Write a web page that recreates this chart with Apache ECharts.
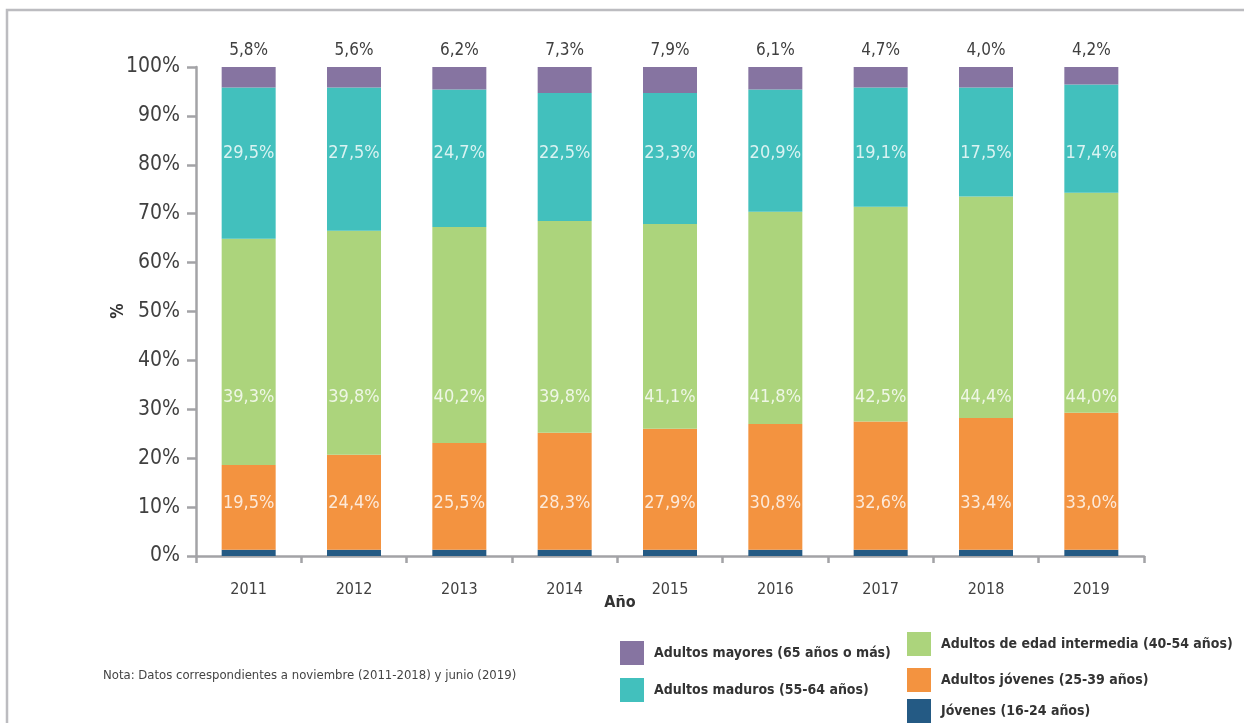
<!DOCTYPE html>
<html>
<head>
<meta charset="utf-8">
<script src="https://cdn.jsdelivr.net/npm/echarts@6/dist/echarts.min.js"></script>
<style>
html,body{margin:0;padding:0;background:#fff;}
#main{width:1244px;height:723px;}
</style>
</head>
<body>
<div id="main"></div>
<script>
// categorias
var years = ['2011','2012','2013','2014','2015','2016','2017','2018','2019'];
var seriesNames = ['Jóvenes (16-24 años)','Adultos jóvenes (25-39 años)','Adultos de edad intermedia (40-54 años)','Adultos maduros (55-64 años)','Adultos mayores (65 años o más)'];

// alturas de los segmentos
var jovenes = [1.3,1.3,1.3,1.3,1.3,1.3,1.3,1.3,1.3];
var adultosJovenes = [17.3,19.4,21.8,23.9,24.7,25.7,26.2,26.9,28.0];
var adultosIntermedia = [46.3,45.8,44.2,43.3,41.9,43.4,43.9,45.3,45.0];
var adultosMaduros = [30.9,29.3,28.1,26.2,26.8,25.0,24.4,22.3,22.1];
var adultosMayores = [4.2,4.2,4.6,5.3,5.3,4.6,4.2,4.2,3.6];

// textos de las etiquetas
var lblMayores = ['5,8%','5,6%','6,2%','7,3%','7,9%','6,1%','4,7%','4,0%','4,2%'];
var lblMaduros = ['29,5%','27,5%','24,7%','22,5%','23,3%','20,9%','19,1%','17,5%','17,4%'];
var lblIntermedia = ['39,3%','39,8%','40,2%','39,8%','41,1%','41,8%','42,5%','44,4%','44,0%'];
var lblJovenes = ['19,5%','24,4%','25,5%','28,3%','27,9%','30,8%','32,6%','33,4%','33,0%'];

var colors = ['#245a84','#f39340','#acd47c','#42c0bd','#8674a1'];
var FONT = "'Liberation Sans Narrow','DejaVu Sans Condensed',sans-serif";

var chart = echarts.init(document.getElementById('main'));

//serie de barras apiladas
function barSerie(idx, data){
	return {
		name: seriesNames[idx],
		type: 'bar',
		stack: 'total',
		barWidth: 54,
		itemStyle: {color: colors[idx]},
		data: data
	};
}

//fila de etiquetas a una altura fija
function labelRow(level, texts){
	return {
		type: 'scatter',
		symbolSize: 0,
		silent: true,
		z: 10,
		label: {
			show: true,
			position: 'inside',
			color: '#fff',
			fontSize: 18,
			fontFamily: FONT,
			formatter: function(p){ return texts[p.dataIndex]; }
		},
		data: years.map(function(y){ return [y, level]; })
	};
}

function legendItem(name, left, top){
	return {
		data: [name],
		left: left,
		top: top,
		icon: 'rect',
		itemWidth: 24,
		itemHeight: 24,
		itemGap: 10,
		selectedMode: false,
		textStyle: {fontSize: 14, fontWeight: 'bold', color: '#333', fontFamily: FONT, padding: [0,0,0,5]}
	};
}

var mayores = barSerie(4, adultosMayores);
mayores.label = {
	show: true,
	position: 'top',
	distance: 8,
	color: '#404040',
	fontSize: 17,
	fontFamily: FONT,
	formatter: function(p){ return lblMayores[p.dataIndex]; }
};

var option = {
	animation: false,
	grid: {left: 196, right: 100, top: 67, bottom: 167},
	legend: [
		legendItem(seriesNames[4], 615, 636),
		legendItem(seriesNames[3], 615, 673),
		legendItem(seriesNames[2], 902, 627),
		legendItem(seriesNames[1], 902, 663),
		legendItem(seriesNames[0], 902, 694)
	],
	xAxis: {
		type: 'category',
		data: years,
		axisLine: {lineStyle: {color: '#a3a3a6', width: 2.5}},
		axisTick: {show: true, length: 7, lineStyle: {color: '#a3a3a6', width: 2.5}},
		axisLabel: {fontSize: 16, color: '#404040', fontFamily: FONT, margin: 26}
	},
	yAxis: {
		type: 'value',
		min: 0,
		max: 100,
		interval: 10,
		splitLine: {show: false},
		axisLine: {show: true, lineStyle: {color: '#a3a3a6', width: 2.5}},
		axisTick: {show: true, length: 9, lineStyle: {color: '#a3a3a6', width: 2.5}},
		axisLabel: {fontSize: 21, color: '#404040', fontFamily: FONT, margin: 16, formatter: '{value}%'}
	},
	graphic: [
		{
			type: 'rect',
			shape: {x: 7, y: 10, width: 1400, height: 900},
			style: {fill: 'none', stroke: '#bcbcc0', lineWidth: 2.5},
			silent: true
		},
		{
			type: 'text',
			left: 103,
			top: 669,
			style: {text: 'Nota: Datos correspondientes a noviembre (2011-2018) y junio (2019)', fontSize: 13, fill: '#444', fontFamily: FONT}
		},
		{
			//titulo del eje x
			type: 'text',
			x: 620,
			y: 603,
			style: {text: 'Año', fontSize: 16, fontWeight: 'bold', fill: '#333', fontFamily: FONT, align: 'center', verticalAlign: 'middle'}
		},
		{
			//titulo del eje y
			type: 'text',
			x: 119,
			y: 311,
			rotation: Math.PI / 2,
			style: {text: '%', fontSize: 17, fontWeight: 'bold', fill: '#333', fontFamily: FONT, align: 'center', verticalAlign: 'middle'}
		}
	],
	series: [
		barSerie(0, jovenes),
		barSerie(1, adultosJovenes),
		barSerie(2, adultosIntermedia),
		barSerie(3, adultosMaduros),
		mayores,
		labelRow(82.3, lblMaduros),
		labelRow(32.5, lblIntermedia),
		labelRow(10.8, lblJovenes)
	]
};

chart.setOption(option);
</script>
</body>
</html>
